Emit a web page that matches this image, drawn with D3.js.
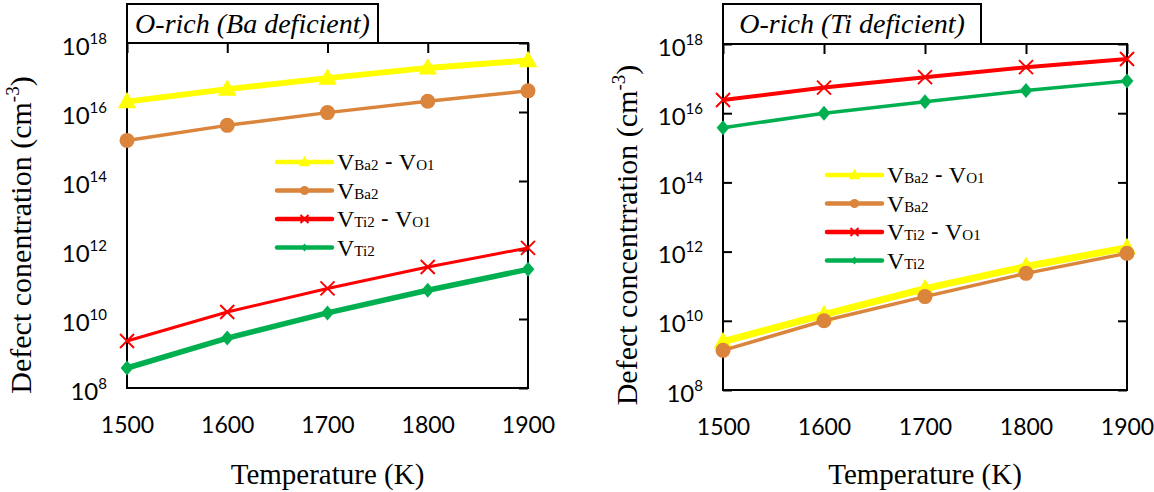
<!DOCTYPE html>
<html>
<head>
<meta charset="utf-8">
<script src="https://cdn.jsdelivr.net/npm/d3@7"></script>
<style>
  html, body { margin: 0; padding: 0; background: #fff; }
  svg { display: block; }
</style>
</head>
<body>
<svg id="chart" width="1154" height="492"></svg>
<script>
// ---------------- DATA ----------------
const temperatures = [1500, 1600, 1700, 1800, 1900];
const xTickLabels = ["1500", "1600", "1700", "1800", "1900"];
const yTickExponents = [8, 10, 12, 14, 16, 18];
const seriesNames = ["VBa2 - VO1", "VBa2", "VTi2 - VO1", "VTi2"];

// Panel 1: O-rich (Ba deficient)
const baDef_VBa2_VO1 = [2.0e16, 4.6e16, 9.6e16, 1.9e17, 3.1e17];
const baDef_VBa2     = [1.5e15, 4.1e15, 9.6e15, 2.05e16, 4.1e16];
const baDef_VTi2_VO1 = [2.3e9, 1.6e10, 7.7e10, 3.2e11, 1.15e12];
const baDef_VTi2     = [3.8e8, 2.8e9, 1.5e10, 6.8e10, 2.75e11];

// Panel 2: O-rich (Ti deficient)
const tiDef_VBa2_VO1 = [2.5e9, 1.5e10, 8.5e10, 3.7e11, 1.3e12];
const tiDef_VBa2     = [1.4e9, 1.0e10, 5.0e10, 2.35e11, 8.9e11];
const tiDef_VTi2_VO1 = [2.4e16, 5.5e16, 1.1e17, 2.14e17, 3.7e17];
const tiDef_VTi2     = [3.8e15, 1.0e16, 2.15e16, 4.5e16, 8.5e16];

// ---------------- STYLE / LAYOUT ----------------
const colors = ["#FFFF00", "#DA843C", "#FF0000", "#00B050"];
const markers = ["triangle", "circle", "cross", "diamond"];

const panels = [
  {
    title: "O-rich (Ba deficient)",
    ylabel: "Defect conentration (cm",
    x0: 127, x1: 528, y0: 43, y1: 388,
    titleRight: 378,
    legendX: 277, legendY: 162, legendStep: 28.5,
    series: [baDef_VBa2_VO1, baDef_VBa2, baDef_VTi2_VO1, baDef_VTi2],
    widths: [6, 3.5, 3, 5.5],
    leftTicks: false,
    ylabelX: 31
  },
  {
    title: "O-rich (Ti deficient)",
    ylabel: "Defect concentrration (cm",
    x0: 723, x1: 1127, y0: 44, y1: 390,
    titleRight: 981,
    legendX: 827, legendY: 175, legendStep: 28.5,
    series: [tiDef_VBa2_VO1, tiDef_VBa2, tiDef_VTi2_VO1, tiDef_VTi2],
    widths: [7, 3.5, 4, 3.5],
    leftTicks: true,
    ylabelX: 637
  }
];

const svg = d3.select("#chart");
const tickFont = "Lato, 'Open Sans', sans-serif";
const serif = "'Liberation Serif', 'Times New Roman', serif";

function drawMarker(g, type, x, y, color, s) {
  if (type === "triangle") {
    const h = s * 1.0;
    g.append("path")
      .attr("d", `M${x},${y - h * 0.62}L${x + h * 0.58},${y + h * 0.42}L${x - h * 0.58},${y + h * 0.42}Z`)
      .attr("fill", color);
  } else if (type === "circle") {
    g.append("circle").attr("cx", x).attr("cy", y).attr("r", s / 2).attr("fill", color);
  } else if (type === "cross") {
    const r = s / 2;
    g.append("path")
      .attr("d", `M${x - r},${y - r}L${x + r},${y + r}M${x - r},${y + r}L${x + r},${y - r}`)
      .attr("stroke", color).attr("stroke-width", 2).attr("fill", "none");
  } else if (type === "diamond") {
    const r = s / 2;
    g.append("path")
      .attr("d", `M${x},${y - r}L${x + r * 0.85},${y}L${x},${y + r}L${x - r * 0.85},${y}Z`)
      .attr("fill", color);
  }
}

function legendLabel(g, x, y, name) {
  const t = g.append("text").attr("x", x).attr("y", y)
    .attr("font-family", serif).attr("font-size", 24).attr("fill", "#000");
  const parts = name.split(" - ");
  parts.forEach((p, i) => {
    if (i > 0) t.append("tspan").attr("font-size", 23).attr("font-family", "Lato, sans-serif").text(" - ");
    t.append("tspan").text(p[0]);
    t.append("tspan").attr("font-size", 15).text(p.slice(1));
  });
}

panels.forEach(p => {
  const g = svg.append("g");
  const x = d3.scaleLinear().domain([1500, 1900]).range([p.x0, p.x1]);
  const y = d3.scaleLog().domain([1e8, 1e18]).range([p.y1, p.y0]);
  const yTicks = yTickExponents.map(e => Math.pow(10, e));

  // Top axis ticks (inward)
  const topAxis = d3.axisBottom(x).tickValues(temperatures).tickSize(10).tickFormat("");
  const topG = g.append("g").attr("transform", `translate(0,${p.y0})`).call(topAxis);
  topG.select(".domain").remove();
  topG.selectAll("line").attr("stroke", "#000").attr("stroke-width", 2);

  // Right axis ticks (inward)
  const rightAxis = d3.axisLeft(y).tickValues(yTicks).tickSize(9).tickFormat("");
  const rightG = g.append("g").attr("transform", `translate(${p.x1},0)`).call(rightAxis);
  rightG.select(".domain").remove();
  rightG.selectAll("line").attr("stroke", "#000").attr("stroke-width", 2);

  if (p.leftTicks) {
    const leftAxisT = d3.axisRight(y).tickValues(yTicks).tickSize(9).tickFormat("");
    const lg = g.append("g").attr("transform", `translate(${p.x0},0)`).call(leftAxisT);
    lg.select(".domain").remove();
    lg.selectAll("line").attr("stroke", "#000").attr("stroke-width", 2);
  }

  // Bottom tick labels
  const bottomAxis = d3.axisBottom(x).tickValues(temperatures).tickSize(0)
    .tickFormat((d, i) => xTickLabels[i]);
  const bg = g.append("g").attr("transform", `translate(0,${p.y1})`).call(bottomAxis);
  bg.select(".domain").remove();
  bg.selectAll("text").attr("font-family", tickFont).attr("font-size", 23)
    .attr("fill", "#000").attr("dy", 0).attr("y", 45);

  // Left tick labels 10^n
  const leftAxis = d3.axisLeft(y).tickValues(yTicks).tickSize(0).tickFormat("");
  const lAx = g.append("g").attr("transform", `translate(${p.x0},0)`).call(leftAxis);
  lAx.select(".domain").remove();
  lAx.selectAll(".tick").each(function(d) {
    const e = Math.round(Math.log10(d));
    const t = d3.select(this).append("text")
      .attr("x", -20).attr("y", 11)
      .attr("text-anchor", "end")
      .attr("font-family", tickFont).attr("font-size", 24).attr("fill", "#000");
    t.append("tspan").text("10");
    t.append("tspan").attr("font-size", 15).attr("dy", -11).text(String(e));
  });

  // Plot frame
  g.append("rect").attr("x", p.x0).attr("y", p.y0)
    .attr("width", p.x1 - p.x0).attr("height", p.y1 - p.y0)
    .attr("fill", "none").attr("stroke", "#000").attr("stroke-width", 2);

  // Title box
  g.append("rect").attr("x", p.x0).attr("y", 4)
    .attr("width", p.titleRight - p.x0).attr("height", p.y0 - 4)
    .attr("fill", "#fff").attr("stroke", "#000").attr("stroke-width", 2);
  g.append("text").attr("x", (p.x0 + p.titleRight) / 2).attr("y", 33)
    .attr("text-anchor", "middle")
    .attr("font-family", serif).attr("font-style", "italic").attr("font-size", 28)
    .attr("fill", "#000").text(p.title);

  // Series lines + markers
  const line = d3.line().x((d, i) => x(temperatures[i])).y(d => y(d));
  p.series.forEach((vals, si) => {
    const sg = g.append("g");
    sg.append("path").datum(vals).attr("d", line)
      .attr("fill", "none").attr("stroke", colors[si]).attr("stroke-width", p.widths[si])
      .attr("stroke-linejoin", "round");
    const msize = [16, 15, 14, 15][si];
    vals.forEach((v, i) => drawMarker(sg, markers[si], x(temperatures[i]), y(v), colors[si], msize));
  });

  // Legend
  seriesNames.forEach((name, si) => {
    const ly = p.legendY + si * p.legendStep;
    const lg = g.append("g");
    lg.append("line").attr("x1", p.legendX).attr("x2", p.legendX + 55)
      .attr("y1", ly).attr("y2", ly)
      .attr("stroke", colors[si]).attr("stroke-width", 4.5).attr("stroke-linecap", "round");
    drawMarker(lg, markers[si], p.legendX + 27.5, ly, colors[si], [10, 9, 8, 8][si]);
    legendLabel(lg, p.legendX + 60, ly + 8, name);
  });

  // Y axis title
  const cy = 235;
  const yt = g.append("text")
    .attr("transform", `translate(${p.ylabelX},${cy}) rotate(-90)`)
    .attr("text-anchor", "middle")
    .attr("font-family", serif).attr("font-size", 30).attr("fill", "#000");
  yt.append("tspan").text(p.ylabel);
  yt.append("tspan").attr("font-size", 19).attr("dy", -12).text("-3");
  yt.append("tspan").attr("dy", 12).text(")");

  // X axis title
  g.append("text").attr("x", (p.x0 + p.x1) / 2).attr("y", 484)
    .attr("text-anchor", "middle")
    .attr("font-family", serif).attr("font-size", 29).attr("fill", "#000")
    .text("Temperature (K)");
});
</script>
</body>
</html>
